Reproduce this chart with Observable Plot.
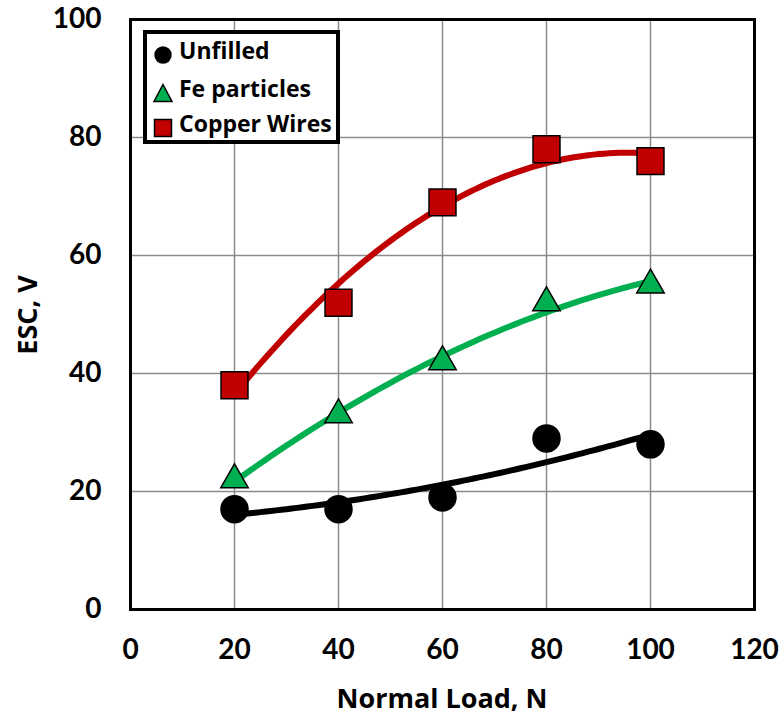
<!DOCTYPE html>
<html><head><meta charset="utf-8">
<script src="https://cdn.jsdelivr.net/npm/d3@7"></script>
<script src="https://cdn.jsdelivr.net/npm/@observablehq/plot@0.6"></script>
<style>
body{margin:0;background:#fff;font-family:"Open Sans",sans-serif;}
#wrap{position:relative;width:781px;height:715px;}
#legend{position:absolute;left:143px;top:30px;width:197px;height:114px;box-sizing:border-box;border:4px solid #000;background:#fff;font:bold 23px "Open Sans",sans-serif;}
#legend .sym{position:absolute;left:6px;width:20px;height:20px;}
#legend .txt{position:absolute;left:32px;height:30px;line-height:30px;white-space:nowrap;}
.atitle{position:absolute;font:bold 27px "Open Sans",sans-serif;white-space:nowrap;line-height:1;}
</style></head><body>
<div id="wrap"></div>
<script>
const loads = [20, 40, 60, 80, 100];
const unfilled = [17, 17, 19, 29, 28];
const feParticles = [22, 33, 42, 52, 55];
const copperWires = [38, 52, 69, 78, 76];
const seriesNames = ["Unfilled", "Fe particles", "Copper Wires"];
const xTicks = [0, 20, 40, 60, 80, 100, 120];
const yTicks = [0, 20, 40, 60, 80, 100];
const xTitle = "Normal Load, N";
const yTitle = "ESC, V";

const colors = {"Unfilled": "#000000", "Fe particles": "#00B050", "Copper Wires": "#C00000"};
const symbols = {"Unfilled": "circle", "Fe particles": "triangle", "Copper Wires": "square"};
const radii = {"Unfilled": 13.5, "Fe particles": 10.2, "Copper Wires": 15.2};
const values = {"Unfilled": unfilled, "Fe particles": feParticles, "Copper Wires": copperWires};

const points = seriesNames.flatMap(s => loads.map((x, i) => ({series: s, x, y: values[s][i]})));

// quadratic least-squares trendline (spreadsheet-style polynomial trendline)
function quadFit(xs, ys) {
  const n = xs.length;
  let S = [0,0,0,0,0], T = [0,0,0];
  for (let i = 0; i < n; i++) {
    for (let k = 0; k < 5; k++) S[k] += Math.pow(xs[i], k);
    for (let k = 0; k < 3; k++) T[k] += ys[i] * Math.pow(xs[i], k);
  }
  const A = [[S[0],S[1],S[2],T[0]],[S[1],S[2],S[3],T[1]],[S[2],S[3],S[4],T[2]]];
  for (let i = 0; i < 3; i++) {
    for (let j = i + 1; j < 3; j++) {
      const f = A[j][i] / A[i][i];
      for (let k = i; k < 4; k++) A[j][k] -= f * A[i][k];
    }
  }
  const c = [0,0,0];
  for (let i = 2; i >= 0; i--) {
    let s = A[i][3];
    for (let k = i + 1; k < 3; k++) s -= A[i][k] * c[k];
    c[i] = s / A[i][i];
  }
  return x => c[0] + c[1]*x + c[2]*x*x;
}
const trend = seriesNames.flatMap(s => {
  const f = quadFit(loads, values[s]);
  return d3.range(loads[0], loads[loads.length-1] + 0.001, 1).map(x => ({series: s, x, y: f(x)}));
});

const chart = Plot.plot({
  width: 781, height: 715,
  marginLeft: 130, marginRight: 27, marginTop: 19, marginBottom: 106,
  style: {fontFamily: "Lato, sans-serif", fontWeight: "bold", fontSize: "28px", color: "#000", background: "#fff", overflow: "visible"},
  x: {domain: [0, 120], ticks: xTicks},
  y: {domain: [0, 100], ticks: yTicks},
  r: {type: "identity"},
  symbol: {type: "identity"},
  marks: [
    Plot.gridX(xTicks, {stroke: "#8c8c8c", strokeOpacity: 1, strokeWidth: 1.5}),
    Plot.gridY(yTicks, {stroke: "#8c8c8c", strokeOpacity: 1, strokeWidth: 1.5}),
    Plot.axisX(xTicks, {tickSize: 0, tickPadding: 30, fontSize: 28, fontWeight: "bold", label: null}),
    Plot.axisY(yTicks, {tickSize: 0, tickPadding: 29, fontSize: 28, fontWeight: "bold", label: null}),
    Plot.line(trend, {x: "x", y: "y", z: "series", stroke: d => colors[d.series], strokeWidth: 6}),
    Plot.dot(points, {x: "x", y: "y", symbol: d => symbols[d.series], r: d => radii[d.series], fill: d => colors[d.series], stroke: "#000", strokeWidth: 1.5}),
    Plot.frame({stroke: "#000", strokeWidth: 3})
  ]
});
const wrap = document.getElementById("wrap");
wrap.appendChild(chart);

// axis titles
const xt = document.createElement("div");
xt.className = "atitle"; xt.textContent = xTitle;
xt.style.left = "442px"; xt.style.top = "697px"; xt.style.transform = "translate(-50%,-50%)";
wrap.appendChild(xt);
const yt = document.createElement("div");
yt.className = "atitle"; yt.textContent = yTitle;
yt.style.left = "26px"; yt.style.top = "315px"; yt.style.transform = "translate(-50%,-50%) rotate(-90deg)";
wrap.appendChild(yt);

// legend
const leg = document.createElement("div");
leg.id = "legend";
const shapes = {
  "circle": `<circle cx="10" cy="10" r="8.7" fill="#000"/>`,
  "triangle": `<polygon points="10,1.5 19,18.5 1,18.5" fill="#00B050" stroke="#000" stroke-width="1.5"/>`,
  "square": `<rect x="1.5" y="1.5" width="17" height="17" fill="#C00000" stroke="#000" stroke-width="1.5"/>`
};
const rowCenters = [16, 54, 89];
seriesNames.forEach((s, i) => {
  const sym = document.createElement("div");
  sym.className = "sym"; sym.style.top = (rowCenters[i] - 10) + "px";
  sym.innerHTML = `<svg width="20" height="20">${shapes[symbols[s]]}</svg>`;
  leg.appendChild(sym);
  const t = document.createElement("div");
  t.className = "txt"; t.style.top = (rowCenters[i] - 15) + "px";
  t.textContent = s;
  leg.appendChild(t);
});
wrap.appendChild(leg);
</script>
</body></html>
